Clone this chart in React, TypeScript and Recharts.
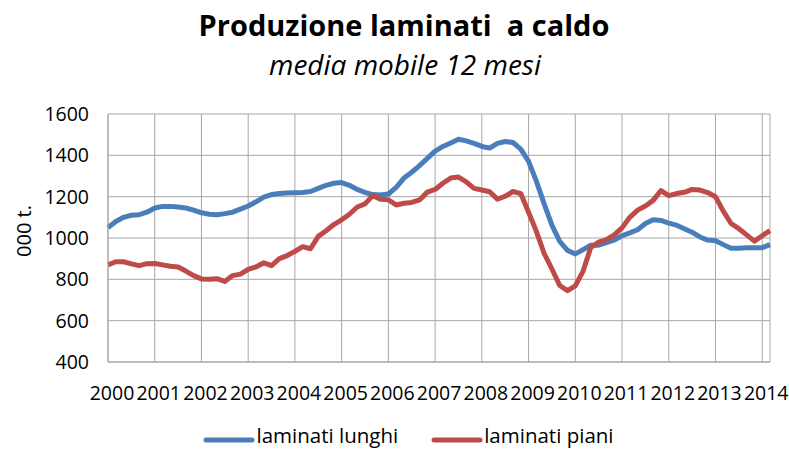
import { LineChart, Line, XAxis, YAxis, CartesianGrid } from 'recharts';

// 12-month moving average, one reading every 2 months from Jan 2000
const years = [2000, 2001, 2002, 2003, 2004, 2005, 2006, 2007, 2008, 2009, 2010, 2011, 2012, 2013, 2014];

const lunghi = [
  1050, 1080, 1100, 1110, 1113, 1125,
  1145, 1153, 1153, 1150, 1145, 1135,
  1122, 1115, 1113, 1118, 1125, 1140,
  1155, 1175, 1198, 1210, 1215, 1218,
  1219, 1220, 1225, 1240, 1255, 1265,
  1268, 1255, 1235, 1220, 1210, 1208,
  1213, 1245, 1290, 1318, 1350, 1385,
  1420, 1443, 1460, 1478, 1470, 1458,
  1443, 1435, 1458, 1467, 1462, 1430,
  1371, 1275, 1165, 1062, 984, 940,
  923, 944, 965, 965, 978, 990,
  1011, 1025, 1040, 1070, 1088, 1085,
  1072, 1062, 1045, 1028, 1005, 990,
  987, 968, 950, 950, 953, 953,
  953, 968,
];

const piani = [
  870, 885, 885, 875, 866, 876,
  877, 870, 863, 860, 840, 818,
  802, 800, 803, 790, 818, 825,
  848, 860, 880, 866, 900, 915,
  935, 958, 948, 1008, 1035, 1065,
  1088, 1115, 1150, 1165, 1205, 1187,
  1185, 1160, 1168, 1172, 1184, 1222,
  1235, 1265, 1290, 1295, 1272, 1240,
  1232, 1224, 1188, 1202, 1225, 1215,
  1125, 1032, 925, 850, 770, 745,
  768, 840, 955, 980, 992, 1015,
  1049, 1100, 1135, 1155, 1182, 1229,
  1205, 1215, 1221, 1235, 1232, 1220,
  1200, 1130, 1070, 1045, 1015, 985,
  1011, 1036,
];

const yTicks = [400, 600, 800, 1000, 1200, 1400, 1600];

const series = [
  { key: 'lunghi', name: 'laminati lunghi', color: '#4a7ebb' },
  { key: 'piani', name: 'laminati piani', color: '#be4b48' },
];

const MONTH_STEP = 2;
const data = lunghi.map((v, i) => ({ month: i * MONTH_STEP, lunghi: v, piani: piani[i] }));
const xTicks = years.map((y) => (y - years[0]) * 12);
const lastMonth = (lunghi.length - 1) * MONTH_STEP;

const FONT = '"Open Sans", sans-serif';
const GRID = '#a6a6a6';

export default function App() {
  return (
    <div style={{ position: 'absolute', left: 0, top: 0, width: 789, height: 451, background: '#fff' }}>
      <div
        style={{
          position: 'absolute', left: 0, top: 5, width: 808, textAlign: 'center',
          fontFamily: FONT, fontWeight: 700, fontSize: 29, whiteSpace: 'pre', color: '#000',
        }}
      >
        Produzione laminati  a caldo
      </div>
      <div
        style={{
          position: 'absolute', left: 0, top: 45, width: 810, textAlign: 'center',
          fontFamily: FONT, fontStyle: 'italic', fontSize: 28, color: '#000',
        }}
      >
        media mobile 12 mesi
      </div>
      <div
        style={{
          position: 'absolute', left: 23, top: 231, transform: 'translate(-50%, -50%) rotate(-90deg)',
          fontFamily: FONT, fontSize: 20, whiteSpace: 'nowrap', color: '#000',
        }}
      >
        000 t.
      </div>
      <LineChart width={789} height={451} data={data} margin={{ top: 114, right: 19, bottom: 49, left: 48 }}>
        <CartesianGrid stroke={GRID} strokeWidth={1} />
        <XAxis
          type="number"
          dataKey="month"
          domain={[0, lastMonth]}
          ticks={xTicks}
          interval={0}
          tickFormatter={(m: number) => String(years[0] + m / 12)}
          height={40}
          tickSize={0}
          tickMargin={24}
          axisLine={{ stroke: GRID }}
          tick={{ fontFamily: FONT, fontSize: 19.5, fill: '#000', dx: 4 }}
        />
        <YAxis
          domain={[400, 1600]}
          ticks={yTicks}
          interval={0}
          width={60}
          tickSize={0}
          tickMargin={19}
          axisLine={{ stroke: GRID }}
          tick={{ fontFamily: FONT, fontSize: 19.5, fill: '#000' }}
        />
        {series.map((s) => (
          <Line
            key={s.key}
            type="linear"
            dataKey={s.key}
            name={s.name}
            stroke={s.color}
            strokeWidth={5}
            strokeLinejoin="round"
            dot={false}
            isAnimationActive={false}
          />
        ))}
      </LineChart>
      <div
        style={{
          position: 'absolute', left: 0, top: 421, width: 789, height: 28, display: 'flex',
          justifyContent: 'center', alignItems: 'flex-start', paddingLeft: 28, boxSizing: 'border-box', gap: 33,
        }}
      >
        {series.map((s) => (
          <div key={s.key} style={{ display: 'flex', alignItems: 'flex-start', height: 28 }}>
            <svg width={52} height={8} style={{ marginTop: 15, display: 'block' }}>
              <line x1={3} y1={4} x2={49} y2={4} stroke={s.color} strokeWidth={5} strokeLinecap="round" />
            </svg>
            <span style={{ fontFamily: FONT, fontSize: 20.5, lineHeight: 'normal', color: '#000', marginLeft: 1 }}>
              {s.name}
            </span>
          </div>
        ))}
      </div>
    </div>
  );
}
